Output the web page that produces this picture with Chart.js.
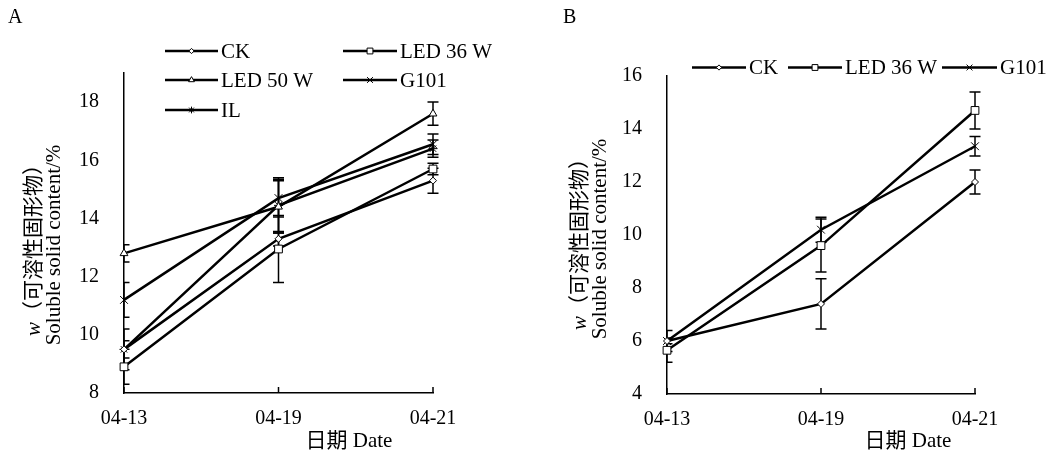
<!DOCTYPE html>
<html>
<head>
<meta charset="utf-8">
<script src="https://cdn.jsdelivr.net/npm/chart.js@4/dist/chart.umd.min.js"></script>
<style>
  html, body { margin: 0; padding: 0; background: #fff; }
  .panel { position: absolute; top: 0; height: 453px; }
  #wrapA { left: 0; width: 527px; }
  #wrapB { left: 527px; width: 526px; }
</style>
</head>
<body>
<div class="panel" id="wrapA"><canvas id="chartA" width="527" height="453"></canvas></div>
<div class="panel" id="wrapB"><canvas id="chartB" width="526" height="453"></canvas></div>
<script>
// dates de mesure
const dates = ['04-13', '04-19', '04-21'];

// Panneau A : valeurs moyennes et écarts
const ckA = [9.5, 13.3, 15.3];
const ckAErr = [0.7, 0.25, 0.43];
const led36A = [8.9, 12.95, 15.7];
const led36AErr = [0.6, 1.15, 0.2];
const led50A = [12.8, 14.4, 17.6];
const led50AErr = [0.3, 0.9, 0.4];
const g101A = [11.2, 14.7, 16.55];
const g101AErr = [0.6, 0.65, 0.35];
const ilA = [9.5, 14.45, 16.4];
const ilAErr = [0.3, 0.95, 0.3];

// Panneau B
const ckB = [6.0, 7.4, 12.0];
const ckBErr = [0.4, 0.95, 0.45];
const led36B = [5.65, 9.6, 14.7];
const led36BErr = [0.45, 1.0, 0.7];
const g101B = [6.0, 10.2, 13.35];
const g101BErr = [0.1, 0.47, 0.37];

// graduations de l'axe y
const ticksA = [8, 10, 12, 14, 16, 18];
const ticksB = [4, 6, 8, 10, 12, 14, 16];

const SERIF = "'Liberation Serif', 'Times New Roman', 'Noto Sans CJK SC', serif";

// styles des marqueurs par série
const markers = {
    'CK': { pointStyle: 'rectRot', radius: 3.5 },
    'LED 36 W': { pointStyle: 'rect', radius: 5.5 },
    'LED 50 W': { pointStyle: 'triangle', radius: 4.5 },
    'G101': { pointStyle: 'crossRot', radius: 5.5 },
    'IL': { pointStyle: 'star', radius: 4.5 }
};

function serie(label, data, errors) {
    const m = markers[label];
    return {
        label: label,
        data: data,
        errors: errors,
        borderColor: '#000',
        borderWidth: 2.5,
        pointStyle: m.pointStyle,
        pointRadius: m.radius,
        pointHoverRadius: m.radius,
        pointBackgroundColor: '#fff',
        pointBorderColor: '#000',
        pointBorderWidth: 1,
        tension: 0,
        clip: false
    };
}

function drawMarker(ctx, style, radius, x, y) {
    ctx.save();
    ctx.strokeStyle = '#000';
    ctx.fillStyle = '#fff';
    ctx.lineWidth = 1;
    Chart.helpers.drawPoint(ctx, { pointStyle: style, radius: radius, rotation: 0, borderWidth: 1 }, x, y);
    ctx.restore();
}

// plugin maison : barres d'erreur, légende, titres des axes
const decor = {
    id: 'decor',
    beforeDatasetsDraw(chart) {
        const ctx = chart.ctx;
        const area = chart.chartArea;
        const xs = chart.scales.x, ys = chart.scales.y;
        ctx.save();
        ctx.beginPath();
        ctx.rect(area.left, 0, area.right - area.left + 20, chart.height);
        ctx.clip();
        ctx.strokeStyle = '#000';
        ctx.lineWidth = 1.5;
        chart.data.datasets.forEach((ds) => {
            ds.errors.forEach((e, j) => {
                const x = xs.getPixelForValue(j);
                const yT = ys.getPixelForValue(ds.data[j] + e);
                const yB = ys.getPixelForValue(ds.data[j] - e);
                ctx.beginPath();
                ctx.moveTo(x, yT); ctx.lineTo(x, yB);
                ctx.moveTo(x - 5.5, yT); ctx.lineTo(x + 5.5, yT);
                ctx.moveTo(x - 5.5, yB); ctx.lineTo(x + 5.5, yB);
                ctx.stroke();
            });
        });
        ctx.restore();
    },
    afterDraw(chart, args, opts) {
        const ctx = chart.ctx;
        const area = chart.chartArea;
        const xs = chart.scales.x;
        ctx.save();
        ctx.fillStyle = '#000';
        ctx.strokeStyle = '#000';

        // petites graduations internes de l'axe x
        ctx.lineWidth = 1.5;
        dates.forEach((d, j) => {
            const x = xs.getPixelForValue(j);
            ctx.beginPath();
            ctx.moveTo(x, area.bottom);
            ctx.lineTo(x, area.bottom - 6);
            ctx.stroke();
        });

        // lettre du panneau
        ctx.font = '20px ' + SERIF;
        ctx.textAlign = 'left';
        ctx.textBaseline = 'alphabetic';
        ctx.fillText(opts.letter, opts.letterX, 23);

        // titre axe x
        ctx.font = '21px ' + SERIF;
        ctx.textAlign = 'center';
        ctx.textBaseline = 'middle';
        ctx.fillText('日期 Date', opts.xTitleX, 441);

        // titre axe y (deux lignes, tournées)
        ctx.save();
        ctx.translate(area.left, opts.yTitleY);
        ctx.rotate(-Math.PI / 2);
        const rest = '（可溶性固形物）';
        ctx.font = 'italic 21px ' + SERIF;
        const wW = ctx.measureText('w').width;
        ctx.font = '21px ' + SERIF;
        const wR = ctx.measureText(rest).width;
        let sx = -(wW + wR) / 2;
        ctx.textAlign = 'left';
        ctx.font = 'italic 21px ' + SERIF;
        ctx.fillText('w', sx, opts.yLine1);
        ctx.font = '21px ' + SERIF;
        ctx.fillText(rest, sx + wW, opts.yLine1);
        ctx.textAlign = 'center';
        ctx.fillText('Soluble solid content/%', 0, opts.yLine2);
        ctx.restore();

        // légende
        ctx.font = '21px ' + SERIF;
        ctx.textAlign = 'left';
        ctx.textBaseline = 'middle';
        opts.legend.forEach((it) => {
            ctx.lineWidth = 2.5;
            ctx.beginPath();
            ctx.moveTo(it.x0, it.y);
            ctx.lineTo(it.x1, it.y);
            ctx.stroke();
            const m = markers[it.label];
            drawMarker(ctx, m.pointStyle, m.radius * 0.75, (it.x0 + it.x1) / 2, it.y);
            ctx.fillText(it.label, it.x1 + 3, it.y + 1);
        });
        ctx.restore();
    }
};

function options(ticks, yMin, yMax, yWidth, pad, deco) {
    return {
        responsive: false,
        animation: false,
        events: [],
        layout: { padding: pad },
        scales: {
            x: {
                type: 'category',
                offset: false,
                grid: { display: false, drawTicks: false },
                border: { display: true, color: '#000', width: 1.5 },
                ticks: { color: '#000', padding: 14, maxRotation: 0, font: { family: SERIF, size: 20 } },
                afterFit: (s) => { s.height = 453 - pad.top - pad.bottom - deco.plotH; }
            },
            y: {
                min: yMin,
                max: yMax,
                grid: { display: false, drawTicks: false },
                border: { display: true, color: '#000', width: 1.5 },
                afterBuildTicks: (s) => { s.ticks = ticks.map(v => ({ value: v })); },
                ticks: { color: '#000', padding: 25, font: { family: SERIF, size: 20 } },
                afterFit: (s) => { s.width = yWidth; }
            }
        },
        plugins: {
            legend: { display: false },
            tooltip: { enabled: false },
            title: { display: false },
            decor: deco
        }
    };
}

new Chart(document.getElementById('chartA'), {
    type: 'line',
    data: {
        labels: dates,
        datasets: [
            serie('CK', ckA, ckAErr),
            serie('LED 36 W', led36A, led36AErr),
            serie('LED 50 W', led50A, led50AErr),
            serie('G101', g101A, g101AErr),
            serie('IL', ilA, ilAErr)
        ]
    },
    options: options(ticksA, 8, 19, 124, { top: 73, bottom: 0, left: 0, right: 94 }, {
        plotH: 320,
        letter: 'A', letterX: 8,
        xTitleX: 349,
        yTitleY: 245, yLine1: -90, yLine2: -70,
        legend: [
            { label: 'CK', x0: 165, x1: 218, y: 51 },
            { label: 'LED 36 W', x0: 343, x1: 397, y: 51 },
            { label: 'LED 50 W', x0: 165, x1: 218, y: 80 },
            { label: 'G101', x0: 343, x1: 397, y: 80 },
            { label: 'IL', x0: 165, x1: 218, y: 110 }
        ]
    }),
    plugins: [decor]
});

new Chart(document.getElementById('chartB'), {
    type: 'line',
    data: {
        labels: dates,
        datasets: [
            serie('CK', ckB, ckBErr),
            serie('LED 36 W', led36B, led36BErr),
            serie('G101', g101B, g101BErr)
        ]
    },
    options: options(ticksB, 4, 16, 140, { top: 76, bottom: 0, left: 0, right: 78 }, {
        plotH: 318,
        letter: 'B', letterX: 36,
        xTitleX: 381,
        yTitleY: 239, yLine1: -87, yLine2: -67,
        legend: [
            { label: 'CK', x0: 165, x1: 219, y: 67.5 },
            { label: 'LED 36 W', x0: 261, x1: 315, y: 67.5 },
            { label: 'G101', x0: 415, x1: 470, y: 67.5 }
        ]
    }),
    plugins: [decor]
});
</script>
</body>
</html>
